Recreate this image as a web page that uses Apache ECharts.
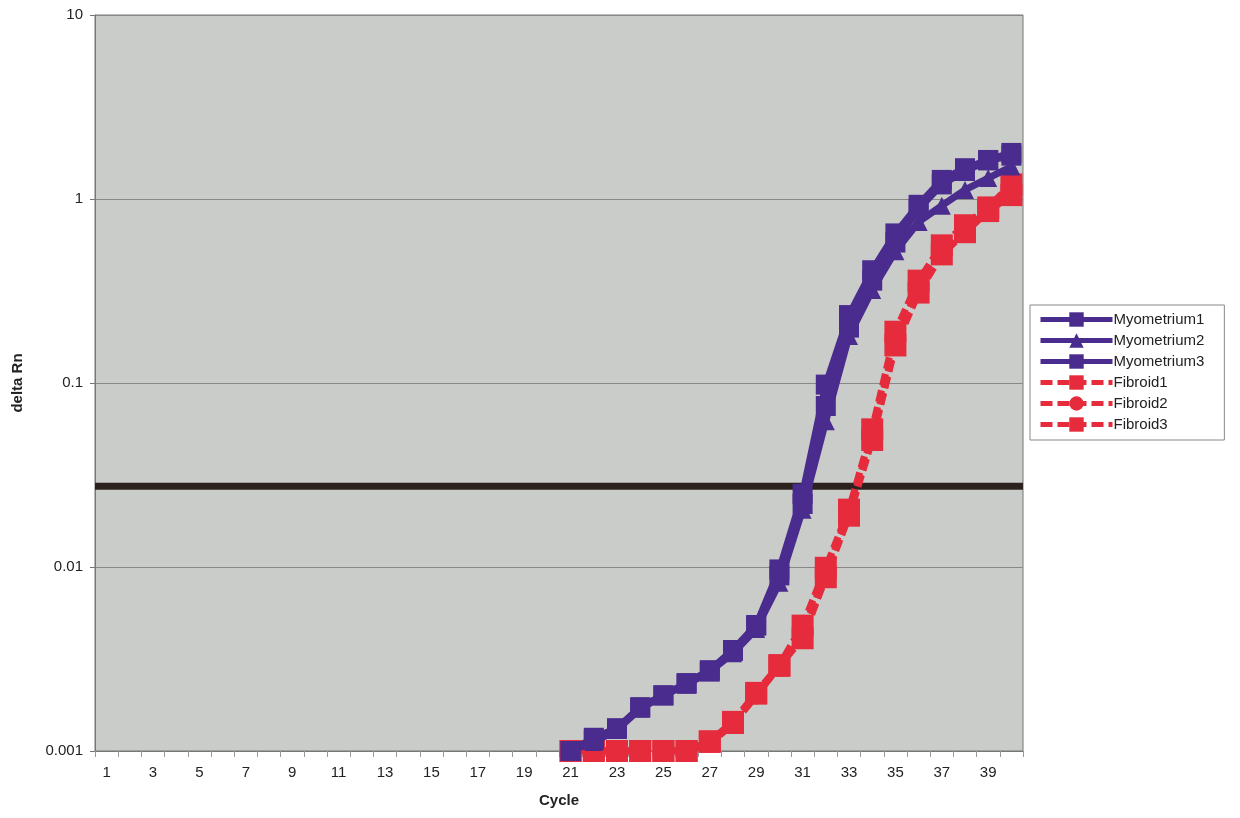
<!DOCTYPE html>
<html>
<head>
<meta charset="utf-8">
<script src="https://cdn.jsdelivr.net/npm/echarts@6/dist/echarts.min.js"></script>
<style>
    html, body { margin: 0; padding: 0; background: #fff; }
    #chart { width: 1240px; height: 818px; }
</style>
</head>
<body>
<div id="chart"></div>
<script>
// cycles 1..40
const cycles = []
for (let i = 1; i <= 40; i++) cycles.push(String(i))

const yTicks = [0.001, 0.01, 0.1, 1, 10]
const threshold = 0.0275

// values from cycle 21 to 40 (earlier cycles are below the axis)
const pad = new Array(20).fill(null)
const myometrium1 = pad.concat([0.001, 0.00118, 0.00133, 0.00173, 0.00201, 0.00234, 0.00275, 0.00354, 0.00484, 0.0097,
    0.025, 0.098, 0.234, 0.41, 0.65, 0.93, 1.27, 1.47, 1.63, 1.78])
const myometrium2 = pad.concat([0.001, 0.00112, 0.0013, 0.0017, 0.002, 0.0023, 0.0027, 0.0034, 0.0046, 0.0082,
    0.0205, 0.062, 0.18, 0.32, 0.52, 0.75, 0.92, 1.12, 1.3, 1.5])
const myometrium3 = pad.concat([0.001, 0.00115, 0.00132, 0.00172, 0.002, 0.00232, 0.0027, 0.0035, 0.0048, 0.009,
    0.022, 0.075, 0.2, 0.36, 0.58, 0.88, 1.2, 1.42, 1.62, 1.72])
const fibroid1 = pad.concat([0.001, 0.001, 0.001, 0.001, 0.001, 0.001, 0.00113, 0.00144, 0.00207, 0.00293,
    0.0048, 0.0099, 0.0205, 0.056, 0.19, 0.36, 0.56, 0.72, 0.9, 1.2])
const fibroid2 = pad.concat([0.001, 0.001, 0.001, 0.001, 0.001, 0.001, 0.0011, 0.0014, 0.002, 0.0029,
    0.0044, 0.0092, 0.02, 0.052, 0.17, 0.33, 0.52, 0.68, 0.88, 1.1])
const fibroid3 = pad.concat([0.001, 0.001, 0.001, 0.001, 0.001, 0.001, 0.00112, 0.00142, 0.00205, 0.0029,
    0.0041, 0.0088, 0.019, 0.049, 0.16, 0.31, 0.5, 0.66, 0.86, 1.05])

const blue = '#4a2b8e'
const red = '#e62b3c'
const font = '"Liberation Sans", Arial, sans-serif'

function line(name, data, color, symbol, size, dashed){
    return {
        name: name,
        type: 'line',
        data: data,
        color: color,
        symbol: symbol,
        symbolSize: size,
        showSymbol: true,
        showAllSymbol: true,
        lineStyle: { width: 7, color: color, type: dashed ? [12, 5] : 'solid' },
        itemStyle: { color: color },
        emphasis: { disabled: true },
        connectNulls: false,
        animation: false,
        z: dashed ? 3 : 4
    }
}

const series = [
    line('Myometrium1', myometrium1, blue, 'rect', 20, false),
    line('Myometrium2', myometrium2, blue, 'triangle', 18, false),
    line('Myometrium3', myometrium3, blue, 'rect', 20, false),
    line('Fibroid1', fibroid1, red, 'rect', 22, true),
    line('Fibroid2', fibroid2, red, 'circle', 18, true),
    line('Fibroid3', fibroid3, red, 'rect', 22, true)
]
// threshold line across the whole plot, on a hidden 0..1 x axis
series.push({
    name: 'threshold',
    type: 'line',
    xAxisIndex: 1,
    data: [[0, threshold], [1, threshold]],
    symbol: 'none',
    silent: true,
    lineStyle: { color: '#2b221f', width: 7 },
    z: 2
})

const chart = echarts.init(document.getElementById('chart'))
chart.setOption({
    animation: false,
    backgroundColor: '#fff',
    textStyle: { fontFamily: font },
    grid: {
        left: 95, right: 217, top: 15, bottom: 67,
        show: true,
        backgroundColor: '#c9ccc8',
        borderColor: '#777',
        borderWidth: 1
    },
    legend: {
        orient: 'vertical',
        left: 1030,
        top: 305,
        backgroundColor: '#fff',
        borderColor: '#888',
        borderWidth: 1,
        padding: [7, 20, 8, 8],
        itemGap: 6,
        itemWidth: 72,
        itemHeight: 18,
        lineStyle: { width: 5 },
        textStyle: { fontSize: 15, color: '#222', fontFamily: font, padding: [0, 0, 0, -4] },
        data: series.slice(0, 6).map(s => s.name)
    },
    xAxis: [{
        type: 'category',
        data: cycles,
        boundaryGap: true,
        name: 'Cycle',
        nameLocation: 'middle',
        nameGap: 42,
        nameTextStyle: { fontSize: 15, fontWeight: 'bold', color: '#222' },
        axisLine: { lineStyle: { color: '#777', width: 1 } },
        axisTick: { show: true, interval: 0, length: 6, lineStyle: { color: '#999' } },
        axisLabel: { interval: 1, fontSize: 15, color: '#222', margin: 14 },
        splitLine: { show: false }
    }, {
        type: 'value',
        min: 0,
        max: 1,
        show: false
    }],
    yAxis: {
        type: 'log',
        logBase: 10,
        min: 0.001,
        max: 10,
        name: 'delta Rn',
        nameLocation: 'middle',
        nameGap: 70,
        nameRotate: 90,
        nameTextStyle: { fontSize: 15, fontWeight: 'bold', color: '#222' },
        axisLine: { show: true, lineStyle: { color: '#777' } },
        axisTick: { show: true, length: 5, lineStyle: { color: '#777' } },
        axisLabel: {
            fontSize: 15, color: '#222', margin: 12,
            formatter: v => {
                const t = yTicks.find(k => Math.abs(k - v) / k < 1e-6)
                return t !== undefined ? String(t) : ''
            }
        },
        splitLine: { show: true, lineStyle: { color: '#888', width: 1 } }
    },
    series: series
})
</script>
</body>
</html>
